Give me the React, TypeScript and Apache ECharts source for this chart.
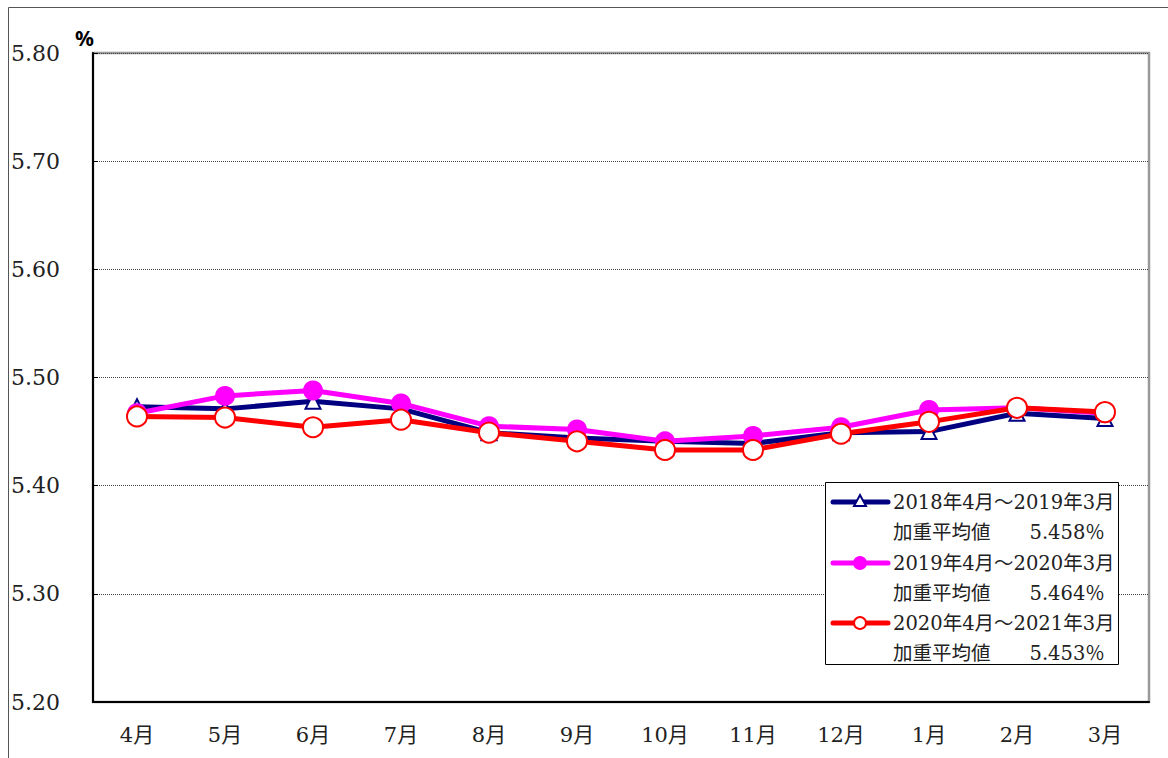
import React, { useEffect, useRef } from "react";
import * as echarts from "echarts";

const categories = ["4月", "5月", "6月", "7月", "8月", "9月", "10月", "11月", "12月", "1月", "2月", "3月"];
const series2018 = [5.473, 5.471, 5.478, 5.471, 5.449, 5.444, 5.441, 5.439, 5.449, 5.450, 5.467, 5.462];
const series2019 = [5.467, 5.483, 5.488, 5.476, 5.455, 5.452, 5.441, 5.446, 5.454, 5.470, 5.472, 5.467];
const series2020 = [5.464, 5.463, 5.454, 5.461, 5.449, 5.441, 5.433, 5.433, 5.448, 5.459, 5.472, 5.468];
const seriesNames = ["2018年4月～2019年3月", "2019年4月～2020年3月", "2020年4月～2021年3月"];
const averages = ["加重平均値　　5.458％", "加重平均値　　5.464％", "加重平均値　　5.453％"];
const yTicks = { min: 5.2, max: 5.8, interval: 0.1 };

const SERIF = '"DejaVu Serif", "Noto Sans CJK JP", serif';

export default function App() {
  const ref = useRef<HTMLDivElement>(null);
  useEffect(() => {
    if (!ref.current) return;
    const chart = echarts.init(ref.current, null, { renderer: "svg" });
    const colors = ["#000080", "#FF00FF", "#FF0000"];

    const legendGraphics: any[] = [
      {
        type: "rect",
        shape: { x: 825.5, y: 482.5, width: 293, height: 182 },
        style: { fill: "#fff", stroke: "#000", lineWidth: 1 },
        z: 100,
      },
    ];
    const rowY = [502, 563, 623];
    const avgY = [532, 593, 653];
    rowY.forEach((y, i) => {
      legendGraphics.push({
        type: "line",
        shape: { x1: 833, y1: y, x2: 888, y2: y },
        style: { stroke: colors[i], lineWidth: 5, lineCap: "round" },
        z: 101,
      });
      if (i === 0) {
        legendGraphics.push({
          type: "polygon",
          shape: { points: [[860, y - 7], [866, y + 4], [854, y + 4]] },
          style: { fill: "#fff", stroke: colors[i], lineWidth: 2 },
          z: 102,
        });
      } else if (i === 1) {
        legendGraphics.push({
          type: "circle",
          shape: { cx: 860, cy: y, r: 7 },
          style: { fill: colors[i] },
          z: 102,
        });
      } else {
        legendGraphics.push({
          type: "circle",
          shape: { cx: 860, cy: y, r: 6 },
          style: { fill: "#fff", stroke: colors[i], lineWidth: 2 },
          z: 102,
        });
      }
      legendGraphics.push({
        type: "text",
        x: 893,
        y: y,
        style: { text: seriesNames[i], font: `19.5px ${SERIF}`, fill: "#222", textVerticalAlign: "middle" },
        z: 102,
      });
      legendGraphics.push({
        type: "text",
        x: 893,
        y: avgY[i],
        style: { text: averages[i], font: `19.5px ${SERIF}`, fill: "#222", textVerticalAlign: "middle" },
        z: 102,
      });
    });

    chart.setOption({
      animation: false,
      backgroundColor: "#fff",
      grid: {
        left: 93,
        top: 53,
        right: 19,
        bottom: 56,
        show: true,
        borderColor: "#999",
        borderWidth: 2.5,
        backgroundColor: "transparent",
      },
      xAxis: {
        type: "category",
        data: categories,
        boundaryGap: true,
        axisLine: { lineStyle: { color: "#000", width: 2 } },
        axisTick: { inside: true, length: 5, lineStyle: { color: "#000", width: 1 } },
        axisLabel: { color: "#222", fontSize: 21, fontFamily: SERIF, margin: 22 },
        splitLine: { show: false },
      },
      yAxis: {
        type: "value",
        min: yTicks.min,
        max: yTicks.max,
        interval: yTicks.interval,
        axisLine: { show: true, lineStyle: { color: "#000", width: 2 } },
        axisTick: { show: true, inside: true, length: 5, lineStyle: { color: "#000", width: 1 } },
        axisLabel: {
          color: "#222",
          fontSize: 22,
          fontFamily: SERIF,
          align: "left",
          margin: 82,
          formatter: (v: number) => v.toFixed(2),
        },
        splitLine: { show: true, lineStyle: { color: "#444", width: 1, type: [1, 1] } },
      },
      graphic: [
        {
          type: "rect",
          shape: { x: 8.5, y: 7.5, width: 2000, height: 2000 },
          style: { fill: "none", stroke: "#555", lineWidth: 1 },
          silent: true,
        },
        {
          type: "text",
          x: 75,
          y: 27,
          style: { text: "%", font: 'bold 21px "Noto Sans", sans-serif', fill: "#000" },
        },
        ...legendGraphics,
      ],
      series: [
        {
          name: seriesNames[0],
          type: "line",
          data: series2018,
          symbol: "triangle",
          symbolSize: 15,
          lineStyle: { color: colors[0], width: 5 },
          itemStyle: { color: "#fff", borderColor: colors[0], borderWidth: 2 },
          z: 2,
        },
        {
          name: seriesNames[1],
          type: "line",
          data: series2019,
          symbol: "circle",
          symbolSize: 20,
          lineStyle: { color: colors[1], width: 5 },
          itemStyle: { color: colors[1], borderWidth: 0 },
          z: 3,
        },
        {
          name: seriesNames[2],
          type: "line",
          data: series2020,
          symbol: "circle",
          symbolSize: 20,
          lineStyle: { color: colors[2], width: 5 },
          itemStyle: { color: "#fff", borderColor: colors[2], borderWidth: 2 },
          z: 4,
        },
      ],
    });
    return () => chart.dispose();
  }, []);

  return (
    <div
      ref={ref}
      style={{ position: "fixed", left: 0, top: 0, width: 1168, height: 758, background: "#fff" }}
    />
  );
}
